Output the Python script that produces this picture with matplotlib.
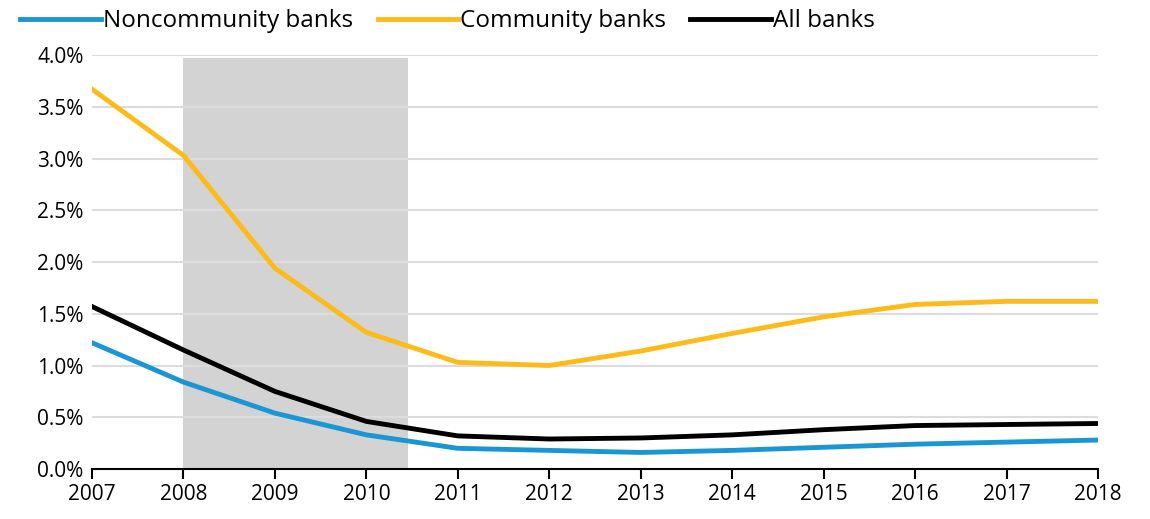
import matplotlib
matplotlib.use("Agg")
import matplotlib.pyplot as plt
from matplotlib.ticker import PercentFormatter

plt.rcParams['font.family'] = ['Open Sans', 'DejaVu Sans']

# data (percent)
years = [2007, 2008, 2009, 2010, 2011, 2012, 2013, 2014, 2015, 2016, 2017, 2018]
noncommunity = [1.22, 0.84, 0.54, 0.33, 0.20, 0.18, 0.16, 0.18, 0.21, 0.24, 0.26, 0.28]
community = [3.67, 3.03, 1.94, 1.32, 1.03, 1.00, 1.14, 1.31, 1.47, 1.59, 1.62, 1.62]
all_banks = [1.57, 1.15, 0.75, 0.46, 0.32, 0.29, 0.30, 0.33, 0.38, 0.42, 0.43, 0.44]
shade_start, shade_end, shade_top = 2008, 2010.46, 3.97

fig = plt.figure(figsize=(11.5, 5.19), dpi=100)
ax = fig.add_axes([0.08, 0.0963, 0.8748, 0.7977])

ax.fill_between([shade_start, shade_end], 0, shade_top, color='#d3d3d3', lw=0, zorder=0)
ax.set_yticks([i * 0.5 for i in range(9)])
for y in ax.get_yticks()[1:]:
    ax.axhline(y, color='#dcdcdc', lw=1.5, zorder=1)

l1, = ax.plot(years, noncommunity, color='#1b96d4', lw=3.5, label='Noncommunity banks', zorder=3)
l2, = ax.plot(years, community, color='#fdbb1a', lw=3.5, label='Community banks', zorder=3)
l3, = ax.plot(years, all_banks, color='#000000', lw=3.5, label='All banks', zorder=4)

ax.set_xlim(2007, 2018)
ax.set_ylim(0, 4.0)
ax.set_xticks(years)
ax.yaxis.set_major_formatter(PercentFormatter(decimals=1))
for s in ['top', 'right', 'left']:
    ax.spines[s].set_visible(False)
ax.spines['bottom'].set_linewidth(1.5)
ax.tick_params(axis='x', length=7, width=1.5, labelsize=15, pad=4, direction='out')
ax.tick_params(axis='y', length=0, labelsize=15, pad=6)

fig.legend(handles=[l1, l2, l3], loc='upper left', bbox_to_anchor=(0.003, 1.015), ncol=3,
           frameon=False, fontsize=17.5, handlelength=3.3, handletextpad=0.1,
           columnspacing=1.0, borderaxespad=0.3)

fig.savefig('out.png', dpi=100)
